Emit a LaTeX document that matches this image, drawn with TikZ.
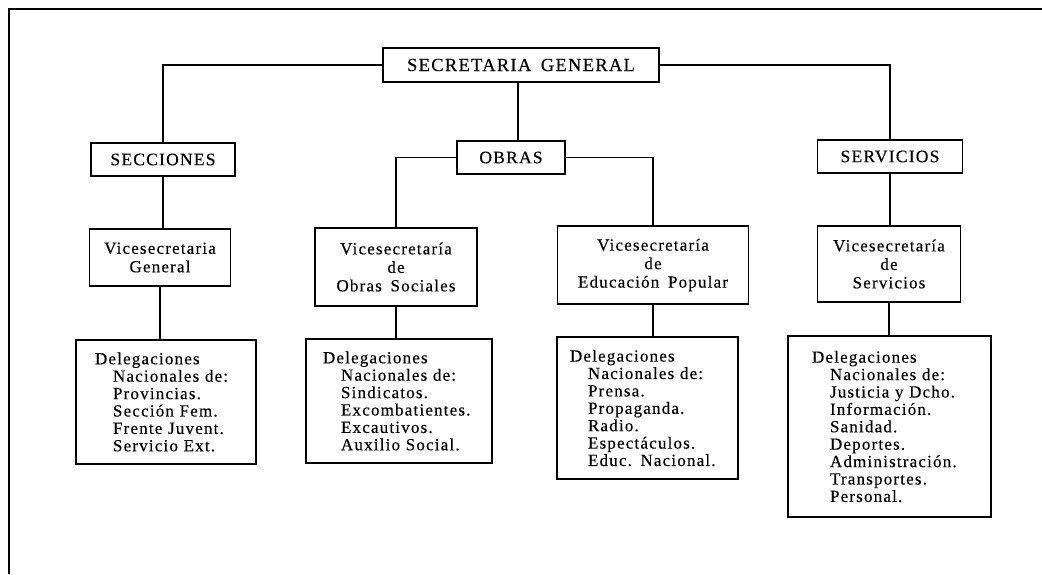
\documentclass[tikz,border=0pt]{standalone}
\usepackage{fontspec}
\setmainfont[LetterSpace=7,WordSpace=1.6,FakeBold=0.3]{Liberation Serif}
\newcommand{\myind}{\hspace*{18pt}}
\begin{document}
\begin{tikzpicture}[x=1pt,y=-1pt,line width=1.6pt,
  box/.style={draw,line width=1.6pt,inner sep=0pt,align=center},
  capsbox/.style={box,font=\fontsize{17.5}{19}\selectfont},
  vicebox/.style={box,font=\fontsize{17}{18.5}\selectfont},
  delbox/.style={draw,line width=1.6pt,inner ysep=0pt,align=left,font=\fontsize{17}{17.4}\selectfont},
  link/.style={draw,line width=1.6pt}]
\useasboundingbox (0,0) rectangle (1042,574);
\draw[line width=2pt] (1042,9) -- (9,9) -- (9,574);

\node[capsbox,font=\fontsize{18.5}{20}\selectfont,minimum width=276pt,minimum height=34pt] (sg) at (521,65) {SECRETARIA GENERAL};
\node[capsbox,minimum width=144pt,minimum height=33pt] (sec) at (163,159.5) {SECCIONES};
\node[capsbox,minimum width=108pt,minimum height=33pt] (obras) at (511,157.5) {OBRAS};
\node[capsbox,minimum width=145pt,minimum height=33pt] (serv) at (890,156.5) {SERVICIOS};

\node[vicebox,minimum width=141pt,minimum height=57pt] (vg) at (160,257.5) {Vicesecretaria\\General};
\node[vicebox,minimum width=162pt,minimum height=78pt] (vos) at (396,267) {Vicesecretaría\\de\\Obras Sociales};
\node[vicebox,minimum width=191pt,minimum height=78pt] (vep) at (653,265) {Vicesecretaría\\de\\Educación Popular};
\node[vicebox,minimum width=143pt,minimum height=76pt] (vs) at (889,264) {Vicesecretaría\\de\\Servicios};

\node[delbox,inner xsep=19pt,text width=142pt,minimum height=124pt] (d1) at (166,402)
  {Delegaciones\\\myind Nacionales de:\\\myind Provincias.\\\myind Sección Fem.\\\myind Frente Juvent.\\\myind Servicio Ext.};
\node[delbox,inner xsep=17pt,text width=152pt,minimum height=124pt] (d2) at (399,401)
  {Delegaciones\\\myind Nacionales de:\\\myind Sindicatos.\\\myind Excombatientes.\\\myind Excautivos.\\\myind Auxilio Social.};
\node[delbox,inner xsep=13pt,text width=155pt,minimum height=142pt] (d3) at (647.5,408)
  {Delegaciones\\\myind Nacionales de:\\\myind Prensa.\\\myind Propaganda.\\\myind Radio.\\\myind Espectáculos.\\\myind Educ. Nacional.};
\node[delbox,inner xsep=24pt,text width=155pt,minimum height=181pt] (d4) at (889.5,426.5)
  {Delegaciones\\\myind Nacionales de:\\\myind Justicia y Dcho.\\\myind Información.\\\myind Sanidad.\\\myind Deportes.\\\myind Administración.\\\myind Transportes.\\\myind Personal.};

\draw[link] (sg.west) -| (sec.north);
\draw[link] (sg.east) -| (serv.north);
\draw[link] ([xshift=-3pt]sg.south) -- ([xshift=-3pt]sg.south |- obras.north);
\draw[link] (obras.west) -| (vos.north);
\draw[link] (obras.east) -| (vep.north);
\draw[link] (sec.south) -- (sec.south |- vg.north);
\draw[link] (serv.south) -- (serv.south |- vs.north);
\draw[link] (vg.south) -- (vg.south |- d1.north);
\draw[link] (vos.south) -- (vos.south |- d2.north);
\draw[link] (vep.south) -- (vep.south |- d3.north);
\draw[link] (vs.south) -- (vs.south |- d4.north);
\end{tikzpicture}
\end{document}
